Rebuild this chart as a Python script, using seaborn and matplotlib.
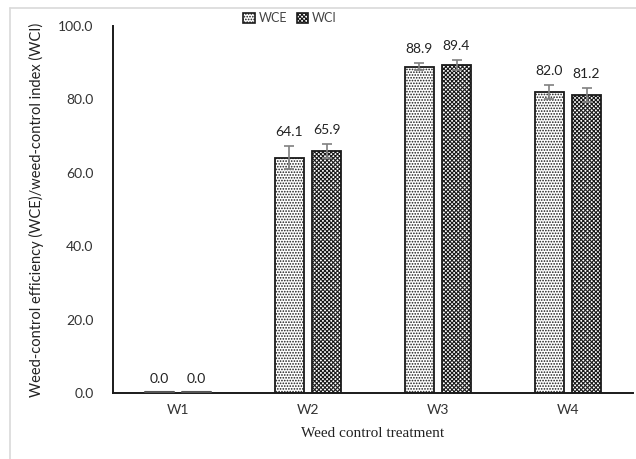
import numpy as np
import pandas as pd
import matplotlib
matplotlib.use("Agg")
import matplotlib.pyplot as plt
from matplotlib.lines import Line2D
from matplotlib.patches import Patch
import seaborn as sns

# data
treatments = ["W1", "W2", "W3", "W4"]
wce = [0.0, 64.1, 88.9, 82.0]
wci = [0.0, 65.9, 89.4, 81.2]
wce_err = [0.0, 3.2, 1.0, 1.9]
wci_err = [0.0, 2.0, 1.4, 1.9]
series = ["WCE", "WCI"]
y_ticks = [0, 20, 40, 60, 80, 100]

sns.set_style("white")
plt.rcParams["font.family"] = ["Lato", "DejaVu Sans"]
plt.rcParams["hatch.linewidth"] = 0.8

df = pd.DataFrame({
    "treatment": treatments * 2,
    "value": wce + wci,
    "err": wce_err + wci_err,
    "series": ["WCE"] * 4 + ["WCI"] * 4,
})

fig = plt.figure(figsize=(6.36, 4.59), dpi=100)
ax = fig.add_axes([113 / 636, 66 / 459, 520 / 636, 367 / 459])

sns.barplot(data=df, x="treatment", y="value", hue="series", order=treatments,
            hue_order=series, palette=["white", "white"], width=0.57, gap=0.23,
            edgecolor="#1a1a1a", linewidth=1.3, errorbar=None, legend=False, ax=ax)

hatches = {"WCE": "......", "WCI": "xxxxxxxx"}
bars = ax.patches[:8]
for i, bar in enumerate(bars):
    s = series[i // 4]
    j = i % 4
    bar.set_hatch(hatches[s])
    cx = bar.get_x() + bar.get_width() / 2
    h = bar.get_height()
    e = df.loc[(df.series == s) & (df.treatment == treatments[j]), "err"].iloc[0]
    if e > 0:
        ax.errorbar(cx, h, yerr=e, fmt="none", ecolor="#808080", elinewidth=1.2,
                    capsize=3.5, capthick=1.2, zorder=5)
    else:
        # zero-height bars show as a short line on the axis
        ax.plot([bar.get_x(), bar.get_x() + bar.get_width()], [0.3, 0.3],
                color="#555555", lw=1.5, zorder=4, clip_on=False)
    ax.text(cx, h + e + 2.2, f"{h:.1f}", ha="center", va="bottom", fontsize=10,
            color="#222222")

ax.set_ylim(0, 100)
ax.set_xlim(-0.5, 3.5)
ax.set_yticks(y_ticks)
ax.set_yticklabels([f"{v:.1f}" for v in y_ticks], fontsize=10, color="#333333")
ax.set_xticks(range(4))
ax.set_xticklabels(treatments, fontsize=10, color="#333333")
ax.set_xticks(np.arange(-0.5, 4.0, 1.0), minor=True)
ax.tick_params(axis="x", which="major", length=0, pad=8)
ax.tick_params(axis="x", which="minor", direction="in", length=4, width=1.2, color="#1a1a1a")
ax.tick_params(axis="y", direction="out", length=4, width=1.2, color="#1a1a1a", pad=10)

for side in ["top", "right"]:
    ax.spines[side].set_visible(False)
for side in ["left", "bottom"]:
    ax.spines[side].set_color("#1a1a1a")
    ax.spines[side].set_linewidth(1.4)

ax.set_xlabel("Weed control treatment", family="Liberation Serif", fontsize=11,
              color="#222222", labelpad=8)
ax.set_ylabel("Weed-control efficiency (WCE)/weed-control index (WCI)", fontsize=10.5,
              color="#222222", labelpad=10)

handles = [Patch(facecolor="white", edgecolor="#1a1a1a", hatch=hatches[s], lw=1.2)
           for s in series]
fig.legend(handles, series, loc="center", bbox_to_anchor=(290 / 636, 1 - 18 / 459),
           ncol=2, frameon=False, fontsize=9, handlelength=0.9, handleheight=0.9,
           handletextpad=0.3, columnspacing=0.8, labelcolor="#444444")

# light grey chart frame
fig.add_artist(Line2D([10 / 636, 10 / 636], [0, 1 - 8 / 459], color="#d9d9d9", lw=1.2,
                      transform=fig.transFigure))
fig.add_artist(Line2D([10 / 636, 1], [1 - 8 / 459, 1 - 8 / 459], color="#d9d9d9", lw=1.2,
                      transform=fig.transFigure))

fig.savefig("out.png", dpi=100)
